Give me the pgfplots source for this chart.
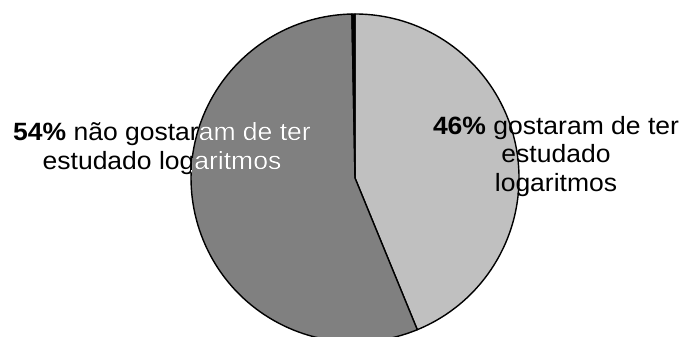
\documentclass[border=0pt]{standalone}
\usepackage{fontspec}
\setmainfont{Liberation Sans}
\usepackage{pgfplots}
\usepackage{pgfplotstable}
\pgfplotsset{compat=1.18}
\definecolor{light}{HTML}{C0C0C0}
\definecolor{dark}{HTML}{808080}
% slices, clockwise from 12 o'clock (percent)
\pgfplotstableread{
share color
43.8 light
55.9 dark
0.3 black
}\piedata
\newcommand{\lab}[1]{\scalebox{1.06}[1]{\fontsize{25bp}{28bp}\selectfont #1}}
\begin{document}
\begin{tikzpicture}
\begin{axis}[hide axis, scale only axis, width=683bp, height=337bp,
  xmin=0, xmax=683, ymin=0, ymax=337, clip=false]
\pgfplotstablegetrowsof{\piedata}
\pgfmathtruncatemacro{\nrows}{\pgfplotsretval-1}
\def\angA{90}
\pgfplotsforeachungrouped \i in {0,...,\nrows}{%
  \pgfplotstablegetelem{\i}{share}\of\piedata \let\val\pgfplotsretval
  \pgfplotstablegetelem{\i}{color}\of\piedata \let\col\pgfplotsretval
  \pgfmathsetmacro{\angB}{\angA-3.6*\val}%
  \expandafter\xdef\csname angs\i\endcsname{\angA}%
  \expandafter\xdef\csname ange\i\endcsname{\angB}%
  \edef\temp{\noexpand\filldraw[fill=\col, draw=black, line width=1.4bp, line join=round] (axis cs:355,159) -- ++(\angA:164bp) arc[start angle=\angA, end angle=\angB, radius=164bp] -- cycle;}%
  \temp
  \global\let\angA\angB
}
% labels
\node[anchor=base, black] at (axis cs:162,196) {\lab{\textbf{54\%} não gostaram de ter}};
\node[anchor=base, black] at (axis cs:162,167) {\lab{estudado logaritmos}};
\edef\temp{\noexpand\begin{scope}\noexpand\clip (axis cs:355,159) -- ++(\csname angs1\endcsname:164bp) arc[start angle=\csname angs1\endcsname, end angle=\csname ange1\endcsname, radius=164bp] -- cycle;}
\temp
\node[anchor=base, white] at (axis cs:162,196) {\lab{\textbf{54\%} não gostaram de ter}};
\node[anchor=base, white] at (axis cs:162,167) {\lab{estudado logaritmos}};
\end{scope}
\node[anchor=base] at (axis cs:556,202) {\lab{\textbf{46\%} gostaram de ter}};
\node[anchor=base] at (axis cs:556,174) {\lab{estudado}};
\node[anchor=base] at (axis cs:556,145) {\lab{logaritmos}};
\end{axis}
\pgfresetboundingbox
\path[use as bounding box] (0,0) rectangle (683bp,337bp);
\end{tikzpicture}
\end{document}
